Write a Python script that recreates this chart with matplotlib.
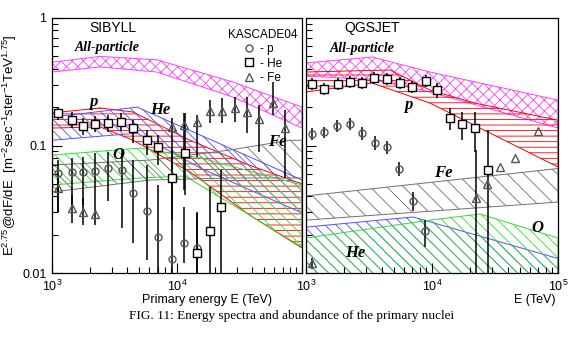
import numpy as np
import matplotlib
matplotlib.use('Agg')
from matplotlib import pyplot as plt
from matplotlib.ticker import NullFormatter

plt.rcParams['font.family'] = ['Liberation Sans', 'DejaVu Sans']
plt.rcParams['mathtext.default'] = 'regular'
plt.rcParams['hatch.linewidth'] = 0.6

# ---------------- SIBYLL (left panel) ----------------
# model bands: energy (TeV) and upper / lower flux edges
sib_all_E = [1000, 2420, 6900, 28000, 100000]
sib_all_up = [0.45, 0.50, 0.47, 0.315, 0.20]
sib_all_lo = [0.377, 0.413, 0.377, 0.24, 0.137]

sib_p_E = [1000, 2420, 4450, 12700, 38000, 100000]
sib_p_up = [0.18, 0.197, 0.183, 0.110, 0.070, 0.050]
sib_p_lo = [0.137, 0.140, 0.110, 0.062, 0.0285, 0.0157]

sib_he_E_up = [1000, 4786, 100000]
sib_he_up = [0.167, 0.200, 0.0536]
sib_he_E_lo = [1000, 4786, 15276, 100000]
sib_he_lo = [0.110, 0.125, 0.0667, 0.0296]

sib_o_E_up = [1000, 5058, 15276, 100000]
sib_o_up = [0.084, 0.0955, 0.080, 0.049]
sib_o_E_lo = [1000, 5058, 11588, 100000]
sib_o_lo = [0.049, 0.0556, 0.0576, 0.016]

sib_fe_E_up = [1000, 6081, 26546, 80168, 100000]
sib_fe_up = [0.0703, 0.0769, 0.0922, 0.110, 0.110]
sib_fe_E_lo = [1000, 6081, 26546, 100000]
sib_fe_lo = [0.0432, 0.0536, 0.0556, 0.0556]

# KASCADE points unfolded with SIBYLL
sib_pE = [1117, 1445, 1770, 2208, 2805, 3631, 4446, 5754, 7047, 9120, 11376, 14454]
sib_pF = [0.0608, 0.0620, 0.0620, 0.0631, 0.0667, 0.0643, 0.0424, 0.0306, 0.0192, 0.0129, 0.0172, 0.0157]
sib_p_hi = [0.077, 0.080, 0.081, 0.087, 0.089, 0.092, 0.077, 0.070, 0.049, 0.056, 0.033, 0.030]
sib_p_lo_err = [0.030, 0.034, 0.034, 0.037, 0.037, 0.0225, 0.0172, 0.0126, 0.009, 0.009, 0.012, 0.009]

sib_heE = [1117, 1445, 1770, 2190, 2805, 3565, 4446, 5754, 7047, 9120, 11588, 14454, 18365, 22491]
sib_heF = [0.180, 0.158, 0.142, 0.148, 0.150, 0.153, 0.137, 0.110, 0.0973, 0.0556, 0.0873, 0.0143, 0.0213, 0.0329]
sib_he_hi = [0.200, 0.183, 0.164, 0.170, 0.174, 0.180, 0.158, 0.132, 0.121, 0.092, 0.180, 0.0296, 0.047, 0.064]
sib_he_lo_err = [0.158, 0.137, 0.121, 0.128, 0.128, 0.130, 0.105, 0.084, 0.070, 0.026, 0.041, 0.009, 0.009, 0.009]

sib_feE = [1117, 1445, 1770, 2208, 9120, 11376, 14454, 18365, 22909, 29107, 36308, 45290, 58614, 73114]
sib_feF = [0.0464, 0.0323, 0.0301, 0.0290, 0.140, 0.145, 0.153, 0.187, 0.187, 0.197, 0.183, 0.161, 0.215, 0.137]
sib_fe_hi = [0.0556, 0.041, 0.039, 0.037, 0.164, 0.180, 0.174, 0.227, 0.236, 0.240, 0.240, 0.208, 0.315, 0.190]
sib_fe_lo_err = [0.030, 0.0247, 0.0238, 0.0238, 0.064, 0.045, 0.081, 0.150, 0.150, 0.153, 0.125, 0.089, 0.174, 0.0556]

# ---------------- QGSJET (right panel) ----------------
qgs_all_E = [1000, 3342, 9641, 100000]
qgs_all_up = [0.444, 0.494, 0.377, 0.227]
qgs_all_lo = [0.35, 0.33, 0.263, 0.137]

qgs_p_E_up = [1000, 4642, 9641, 21928, 100000]
qgs_p_up = [0.377, 0.391, 0.272, 0.215, 0.158]
qgs_p_E_lo = [1000, 3342, 9641, 100000]
qgs_p_lo = [0.263, 0.309, 0.215, 0.0678]

qgs_fe_E = [1000, 100000]
qgs_fe_up = [0.0402, 0.066]
qgs_fe_lo = [0.026, 0.036]

qgs_he_E_up = [1000, 7064, 100000]
qgs_he_up = [0.0229, 0.0275, 0.013]
qgs_o_E_up = [1000, 9641, 24033, 100000]
qgs_o_up = [0.0188, 0.026, 0.029, 0.0188]
qgs_floor_E = [1000, 100000]
qgs_floor = [0.005, 0.005]

qgs_pE = [1116, 1389, 1762, 2234, 2781, 3529, 4395, 5470, 7064, 8794]
qgs_pF = [0.123, 0.128, 0.142, 0.148, 0.125, 0.105, 0.0973, 0.0655, 0.0367, 0.0213]
qgs_p_hi = [0.137, 0.140, 0.158, 0.164, 0.140, 0.118, 0.108, 0.074, 0.0432, 0.026]
qgs_p_lo_err = [0.110, 0.115, 0.128, 0.132, 0.110, 0.092, 0.086, 0.058, 0.0306, 0.016]

qgs_heE = [1116, 1389, 1795, 2234, 2781, 3466, 4395, 5572, 6938, 8954, 10965, 13900, 17298, 21928, 27830]
qgs_heF = [0.304, 0.277, 0.304, 0.315, 0.309, 0.338, 0.332, 0.309, 0.288, 0.321, 0.272, 0.164, 0.148, 0.137, 0.0643]
qgs_he_hi = [0.339, 0.309, 0.339, 0.351, 0.345, 0.377, 0.370, 0.345, 0.321, 0.358, 0.309, 0.197, 0.183, 0.183, 0.132]
qgs_he_lo_err = [0.273, 0.248, 0.273, 0.283, 0.277, 0.303, 0.298, 0.277, 0.258, 0.288, 0.236, 0.132, 0.110, 0.089, 0.005]

qgs_feE = [1116, 22340, 27341, 34674, 45600, 69343]
qgs_feF = [0.012, 0.0387, 0.0499, 0.0678, 0.0798, 0.130]
qgs_fe_hi = [0.013, 0.092, 0.0499, 0.0678, 0.0798, 0.130]
qgs_fe_lo_err = [0.0107, 0.005, 0.0499, 0.0678, 0.0798, 0.130]

C_ALL = '#ff40ff'
C_P = '#ff0000'
C_HE = '#5050ff'
C_O = '#30dd30'
C_FE = '#707070'


def band(ax, E_up, F_up, E_lo, F_lo, color, hatch):
    xs = np.r_[E_up, np.array(E_lo)[::-1]]
    ys = np.r_[F_up, np.array(F_lo)[::-1]]
    ax.fill(xs, ys, facecolor='none', edgecolor=color, hatch=hatch, lw=0.7)


def points(ax, E, F, lo, hi, marker, color, ms, mfc):
    E, F = np.array(E), np.array(F)
    ax.errorbar(E, F, yerr=[F - np.array(lo), np.array(hi) - F], fmt='none',
                ecolor='k', elinewidth=1.1, capsize=0, zorder=4)
    h, = ax.plot(E, F, ls='none', marker=marker, mec=color, mfc=mfc, ms=ms,
                 mew=1.0, zorder=5)
    return h


fig = plt.figure(figsize=(5.79, 3.49), dpi=100)
ax1 = fig.add_axes([52 / 579, 76 / 349, 250 / 579, 255 / 349])
ax2 = fig.add_axes([306 / 579, 76 / 349, 252 / 579, 255 / 349])

# left panel
band(ax1, sib_all_E, sib_all_up, sib_all_E, sib_all_lo, C_ALL, 'xxx')
band(ax1, sib_p_E, sib_p_up, sib_p_E, sib_p_lo, C_P, '---')
band(ax1, sib_he_E_up, sib_he_up, sib_he_E_lo, sib_he_lo, C_HE, '\\\\\\')
band(ax1, sib_o_E_up, sib_o_up, sib_o_E_lo, sib_o_lo, C_O, '\\\\\\')
band(ax1, sib_fe_E_up, sib_fe_up, sib_fe_E_lo, sib_fe_lo, C_FE, '\\\\')

hp = points(ax1, sib_pE, sib_pF, sib_p_lo_err, sib_p_hi, 'o', '#555555', 5, 'none')
hhe = points(ax1, sib_heE, sib_heF, sib_he_lo_err, sib_he_hi, 's', 'k', 6, 'white')
hfe = points(ax1, sib_feE, sib_feF, sib_fe_lo_err, sib_fe_hi, '^', '#555555', 5.5, 'none')

# right panel
band(ax2, qgs_all_E, qgs_all_up, qgs_all_E, qgs_all_lo, C_ALL, 'xxx')
band(ax2, qgs_p_E_up, qgs_p_up, qgs_p_E_lo, qgs_p_lo, C_P, '---')
band(ax2, qgs_fe_E, qgs_fe_up, qgs_fe_E, qgs_fe_lo, C_FE, '\\\\')
band(ax2, qgs_he_E_up, qgs_he_up, qgs_floor_E, qgs_floor, C_HE, '\\\\\\')
band(ax2, qgs_o_E_up, qgs_o_up, qgs_floor_E, qgs_floor, C_O, '\\\\\\')

points(ax2, qgs_pE, qgs_pF, qgs_p_lo_err, qgs_p_hi, 'o', '#555555', 5, 'none')
points(ax2, qgs_heE, qgs_heF, qgs_he_lo_err, qgs_he_hi, 's', 'k', 6, 'white')
points(ax2, qgs_feE, qgs_feF, qgs_fe_lo_err, qgs_fe_hi, '^', '#555555', 5.5, 'none')

for ax in (ax1, ax2):
    ax.set_xscale('log')
    ax.set_yscale('log')
    ax.set_xlim(1e3, 1e5)
    ax.set_ylim(0.01, 1)
    ax.tick_params(which='both', direction='in', top=False, right=False,
                   labelsize=9, width=0.8, pad=4)
    ax.tick_params(which='major', length=7)
    ax.tick_params(which='minor', length=4.5)
    ax.xaxis.set_minor_formatter(NullFormatter())
    ax.yaxis.set_minor_formatter(NullFormatter())
    for s in ax.spines.values():
        s.set_linewidth(0.9)

ax1.set_yticks([0.01, 0.1, 1], ['0.01', '0.1', '1'])
ax2.set_yticks([0.01, 0.1, 1], ['', '', ''])
ax1.set_xticks([1e3, 1e4, 1e5], [r'$10^3$', r'$10^4$', ''])
ax2.set_xticks([1e3, 1e4, 1e5], [r'$10^3$', r'$10^4$', r'$10^5$'])

ax1.set_ylabel(r'E$^{2.75}$@dF/dE  [m$^{-2}$sec$^{-1}$ster$^{-1}$TeV$^{1.75}$]',
               fontsize=9.5, labelpad=2)

# panel texts
serif_bi = dict(family='Liberation Serif', weight='bold', style='italic')
ax1.text(0.244, 0.961, 'SIBYLL', transform=ax1.transAxes, ha='center', va='center', fontsize=10)
ax2.text(0.262, 0.961, 'QGSJET', transform=ax2.transAxes, ha='center', va='center', fontsize=10)
ax1.text(0.222, 0.886, 'All-particle', transform=ax1.transAxes, ha='center', va='center', fontsize=10, **serif_bi)
ax2.text(0.222, 0.882, 'All-particle', transform=ax2.transAxes, ha='center', va='center', fontsize=10, **serif_bi)

ax1.text(0.164, 0.671, 'p', transform=ax1.transAxes, ha='center', va='center', fontsize=12, **serif_bi)
ax1.text(0.432, 0.639, 'He', transform=ax1.transAxes, ha='center', va='center', fontsize=12, **serif_bi)
ax1.text(0.264, 0.463, 'O', transform=ax1.transAxes, ha='center', va='center', fontsize=12, **serif_bi)
ax1.text(0.90, 0.514, 'Fe', transform=ax1.transAxes, ha='center', va='center', fontsize=12, **serif_bi)
ax2.text(0.405, 0.659, 'p', transform=ax2.transAxes, ha='center', va='center', fontsize=12, **serif_bi)
ax2.text(0.544, 0.392, 'Fe', transform=ax2.transAxes, ha='center', va='center', fontsize=12, **serif_bi)
ax2.text(0.917, 0.176, 'O', transform=ax2.transAxes, ha='center', va='center', fontsize=12, **serif_bi)
ax2.text(0.194, 0.078, 'He', transform=ax2.transAxes, ha='center', va='center', fontsize=12, **serif_bi)

ax1.legend([hp, hhe, hfe], ['- p', '- He', '- Fe'], title='KASCADE04',
           loc='upper right', bbox_to_anchor=(1.01, 0.985), frameon=False,
           fontsize=8.5, title_fontsize=8.5, handlelength=1.0,
           handletextpad=0.4, labelspacing=0.2, borderaxespad=0.2)

fig.text(207 / 579, 1 - 300 / 349, 'Primary energy E (TeV)', ha='center', va='center', fontsize=9)
fig.text(556 / 579, 1 - 300 / 349, 'E (TeV)', ha='right', va='center', fontsize=9)
fig.text(0.503, 1 - 316 / 349, 'FIG. 11: Energy spectra and abundance of the primary nuclei',
         family='Liberation Serif', fontsize=9.5, ha='center', va='center')

fig.savefig('out.png', dpi=100)
